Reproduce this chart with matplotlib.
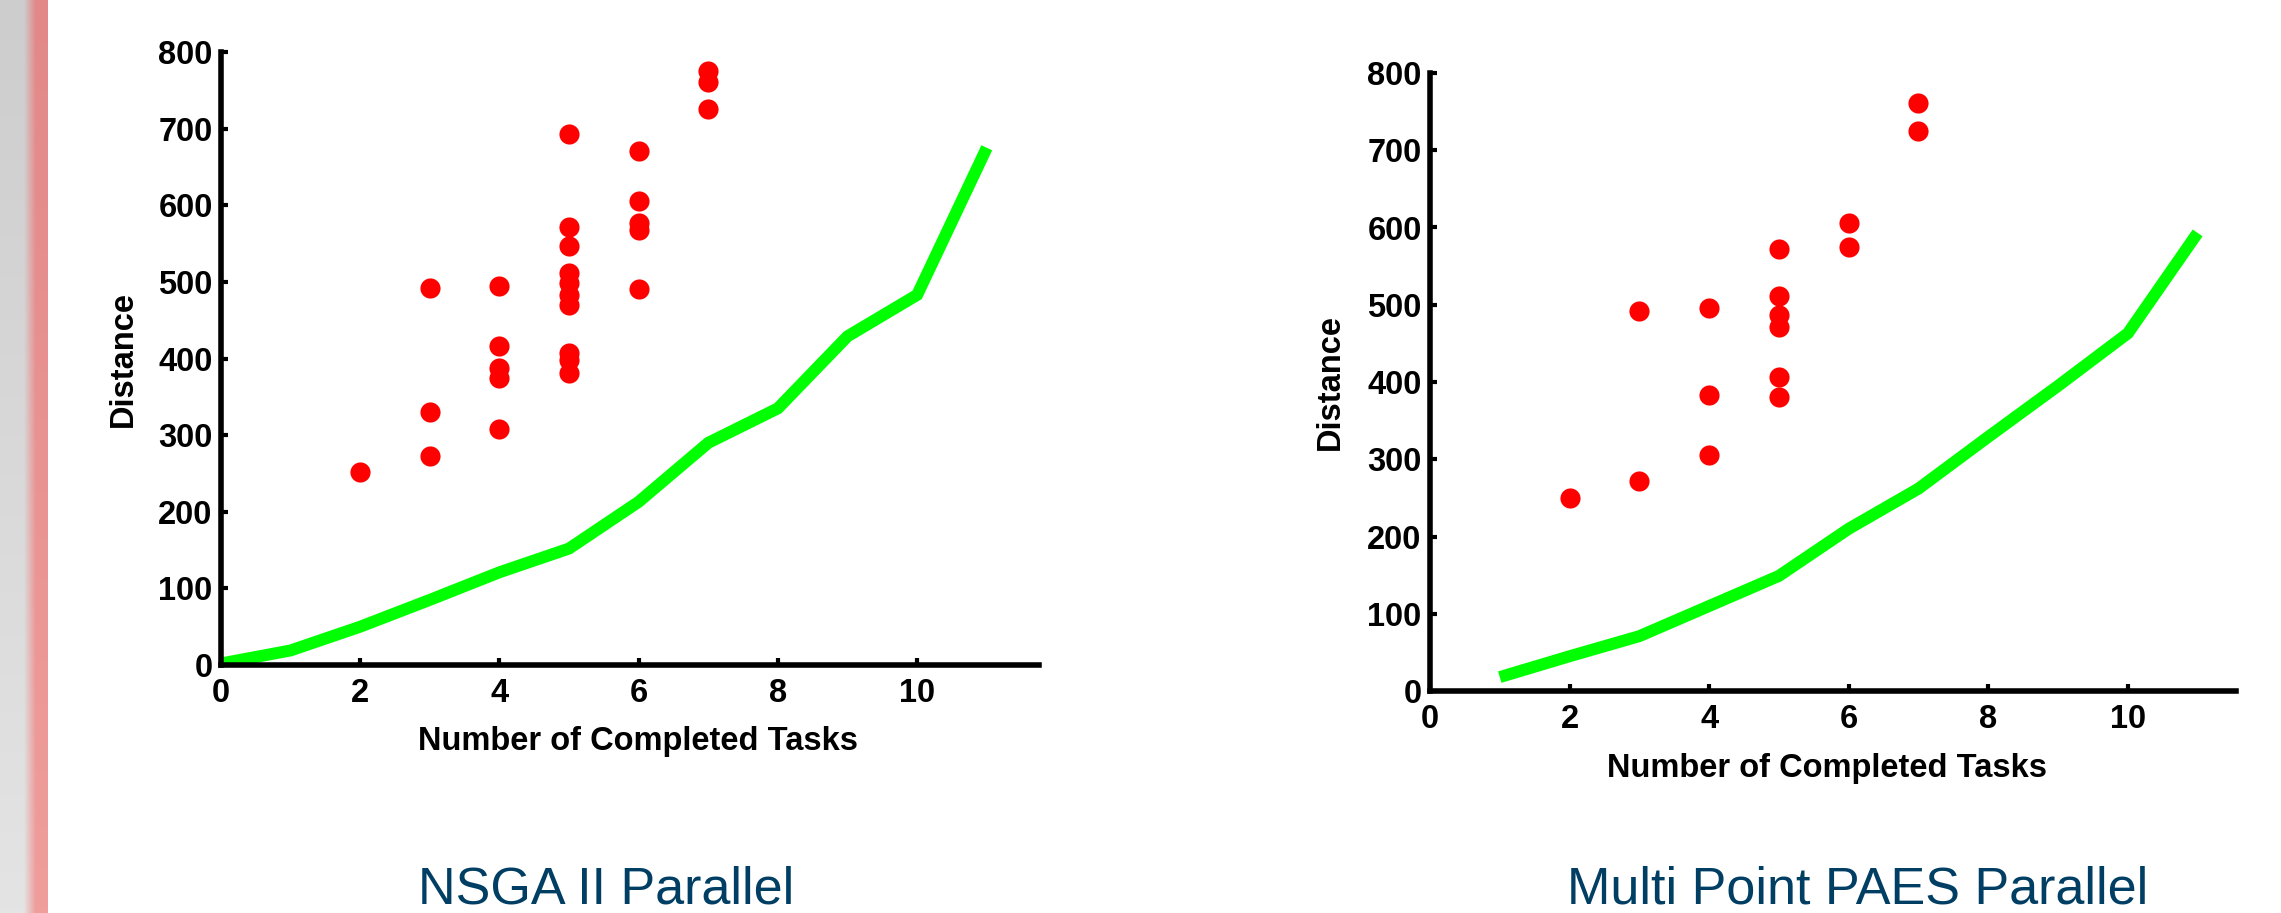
import numpy as np
import matplotlib.pyplot as plt

plt.rcParams['font.family'] = ['Liberation Sans', 'DejaVu Sans']

# NSGA II Parallel
nsga_x = [2, 3, 3, 3, 4, 4, 4, 4, 4,
          5, 5, 5, 5, 5, 5, 5, 5, 5, 5,
          6, 6, 6, 6, 6, 7, 7, 7]
nsga_y = [252, 492, 330, 273, 495, 416, 388, 375, 308,
          693, 571, 547, 512, 498, 483, 470, 407, 398, 381,
          671, 605, 577, 568, 491, 775, 761, 725]
nsga_line_x = [0, 1, 2, 3, 4, 5, 6, 7, 8, 9, 10, 11]
nsga_line_y = [2, 19, 50, 85, 121, 152, 213, 290, 335, 429, 483, 675]

# Multi Point PAES Parallel
paes_x = [2, 3, 3, 4, 4, 4, 5, 5, 5, 5, 5, 5, 6, 6, 7, 7]
paes_y = [250, 272, 492, 496, 383, 306, 572, 511, 487, 471, 407, 381,
          606, 575, 761, 725]
paes_line_x = [1, 2, 3, 4, 5, 6, 7, 8, 9, 10, 11]
paes_line_y = [18, 45, 71, 110, 149, 210, 262, 329, 395, 463, 593]

yticks = [0, 100, 200, 300, 400, 500, 600, 700, 800]
xticks = [0, 2, 4, 6, 8, 10]

W, H = 2281, 913
fig = plt.figure(figsize=(W / 100, H / 100), dpi=100)

# gray-to-red strip at the left edge
strip = fig.add_axes([0, 0, 48 / W, 1])
cols = np.linspace(0, 1, 48)
rows = np.linspace(0, 1, 200)
gray_top, gray_bot = np.array([205, 205, 205]), np.array([228, 228, 228])
red_top, red_bot = np.array([226, 136, 136]), np.array([239, 158, 156])
img = np.zeros((200, 48, 3))
for i, r in enumerate(rows):
    g = gray_top + (gray_bot - gray_top) * r
    rd = red_top + (red_bot - red_top) * r
    w = np.clip((cols - 0.5) / 0.25, 0, 1)[:, None]
    img[i] = (g * (1 - w) + rd * w) / 255
strip.imshow(img, aspect='auto', extent=[0, 1, 0, 1], origin='upper')
strip.axis('off')


def panel(rect, xmax, px, py, lx, ly, ylab_x, xlab_x):
    ax = fig.add_axes(rect)
    ax.plot(lx, ly, color='#00ff00', lw=8.6, solid_capstyle='butt',
            solid_joinstyle='miter', zorder=2)
    ax.plot(px, py, 'o', color='#ff0000', ms=14.5, mew=0, zorder=3)
    ax.set_xlim(0, xmax)
    ax.set_ylim(0, 800)
    ax.set_xticks(xticks)
    ax.set_yticks(yticks)
    for s in ['top', 'right']:
        ax.spines[s].set_visible(False)
    for s in ['left', 'bottom']:
        ax.spines[s].set_linewidth(4)
    ax.tick_params(direction='in', length=5, width=3, labelsize=23.5)
    ax.tick_params(axis='y', pad=6)
    ax.tick_params(axis='x', pad=9)
    for t in ax.get_xticklabels() + ax.get_yticklabels():
        t.set_fontweight('bold')
    ax.set_xlabel('Number of Completed Tasks', fontsize=23.5, fontweight='bold')
    ax.set_ylabel('Distance', fontsize=23.5, fontweight='bold')
    ax.xaxis.set_label_coords(xlab_x, -0.10)
    ax.yaxis.set_label_coords(ylab_x, 0.5)
    return ax


panel([221 / W, 1 - 665 / H, 818 / W, 613 / H], 11.75,
      nsga_x, nsga_y, nsga_line_x, nsga_line_y, -0.10, 0.51)
panel([1430 / W, 1 - 691 / H, 806 / W, 618 / H], 11.55,
      paes_x, paes_y, paes_line_x, paes_line_y, -0.104, 0.493)

fig.text(606 / W, 1 - 903 / H, 'NSGA II Parallel', fontsize=37.5,
         color='#003e64', ha='center', va='baseline')
fig.text(1858 / W, 1 - 903 / H, 'Multi Point PAES Parallel', fontsize=37.5,
         color='#003e64', ha='center', va='baseline')

fig.savefig('out.png', dpi=100)
